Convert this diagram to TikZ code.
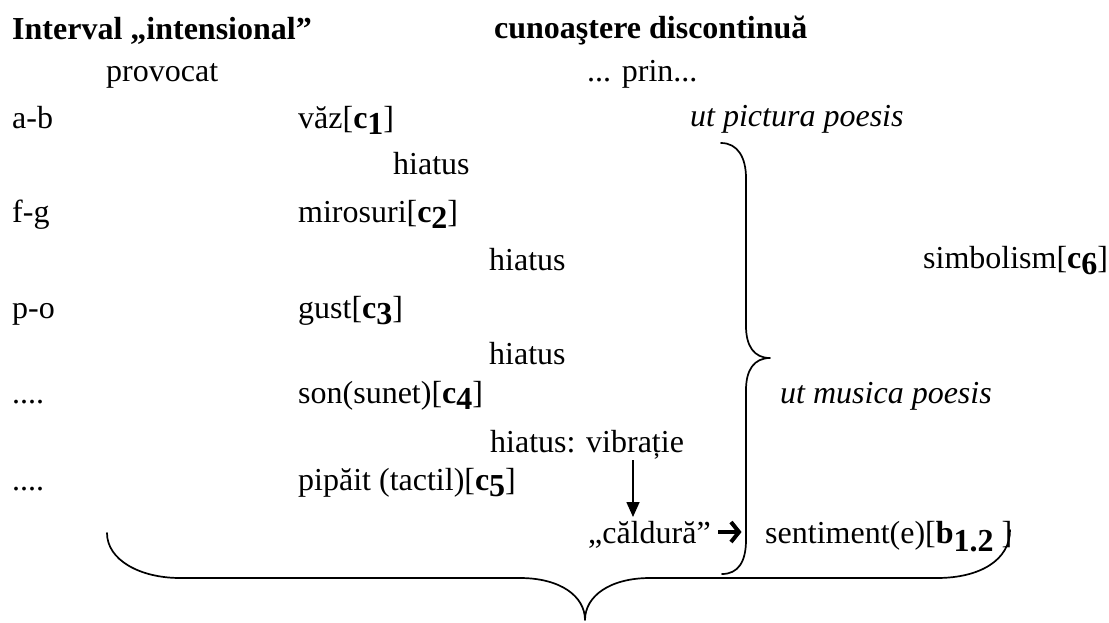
\documentclass[tikz,border=0pt]{standalone}
\usepackage{fontspec}
\setmainfont{Liberation Serif}
\usetikzlibrary{arrows.meta}
\newcommand{\fs}{\fontsize{32}{36}\selectfont}
\newcommand{\mysub}[1]{\raisebox{-0.2em}{\textbf{#1}}}
\newcommand{\mysubb}[1]{\raisebox{-0.28em}{\textbf{#1}}}
\tikzset{
  txt/.style={anchor=base west, inner sep=0pt, font=\fs},
  itx/.style={txt, font=\fs\itshape},
  btx/.style={txt, font=\fs\bfseries},
  bracepath/.style={line width=1.7pt, line cap=round, line join=round},
  varrow/.style={line width=1.6pt, -{Triangle[length=15pt,width=13pt]}},
  hshaft/.style={line width=3.6pt},
  hhead/.style={line width=4pt, line join=miter, miter limit=10}
}
\begin{document}
\begin{tikzpicture}[x=1pt,y=1pt]
\useasboundingbox (0,0) rectangle (1109,-622);
% headings
\node[btx] (h1) at (12,-39) {Interval „intensional”};
\node[btx] (h2) at (494,-38) {cunoaştere discontinuă};
\node[txt] (prov) at (106,-81) {provocat};
\node[txt] (prin) at (587,-81) {... prin...};
% rows
\node[txt] (ab) at (12,-128) {a-b};
\node[txt] (c1) at (298,-128) {văz[\textbf{c}\mysub{1}]};
\node[itx] (upp) at (690,-126) {ut pictura poesis};
\node[txt] (hi1) at (393,-174) {hiatus};
\node[txt] (fg) at (12,-222) {f-g};
\node[txt] (c2) at (298,-222) {mirosuri[\textbf{c}\mysub{2}]};
\node[txt] (hi2) at (489,-270) {hiatus};
\node[txt] (c6) at (923,-268) {simbolism[\textbf{c}\mysub{6}]};
\node[txt] (po) at (12,-318) {p-o};
\node[txt] (c3) at (298,-318) {gust[\textbf{c}\mysub{3}]};
\node[txt] (hi3) at (489,-364) {hiatus};
\node[txt] (d1) at (12,-403) {....};
\node[txt] (c4) at (298,-403) {son(sunet)[\textbf{c}\mysub{4}]};
\node[itx] (ump) at (780,-403) {ut musica poesis};
\node[txt] (vib) at (490,-452) {hiatus: vibrație};
\node[txt] (d2) at (12,-490) {....};
\node[txt] (c5) at (298,-490) {pipăit (tactil)[\textbf{c}\mysub{5}]};
\node[txt] (cald) at (588,-543) {„căldură”};
\node[txt] (sent) at (765,-543) {sentiment(e)[\textbf{b}\mysubb{1.2} ]};
% vertical arrow
\coordinate (va) at (633,-460);
\coordinate (vb) at (633,-517);
\draw[varrow] (va) -- (vb);
% bold horizontal arrow
\coordinate (ha) at (718,-532);
\coordinate (hb) at (739,-532);
\coordinate (hu) at (731,-522);
\coordinate (hd) at (731,-542);
\draw[hshaft] (ha) -- (hb);
\draw[hhead] (hu) -- (hb) -- (hd);
% right vertical brace
\draw[bracepath] (721,-143) .. controls (738,-143) and (746,-158) .. (746,-178)
  -- (746,-326) .. controls (746,-346) and (754,-358) .. (770,-358)
  .. controls (754,-358) and (746,-370) .. (746,-390)
  -- (746,-540) .. controls (746,-562) and (738,-574) .. (722,-574);
% bottom brace
\draw[bracepath] (107,-533) .. controls (107,-560) and (140,-578) .. (180,-578)
  -- (520,-578) .. controls (560,-578) and (585,-596) .. (585,-620)
  .. controls (585,-596) and (610,-578) .. (650,-578)
  -- (937,-578) .. controls (980,-578) and (1010,-560) .. (1010,-530);
\end{tikzpicture}
\end{document}
